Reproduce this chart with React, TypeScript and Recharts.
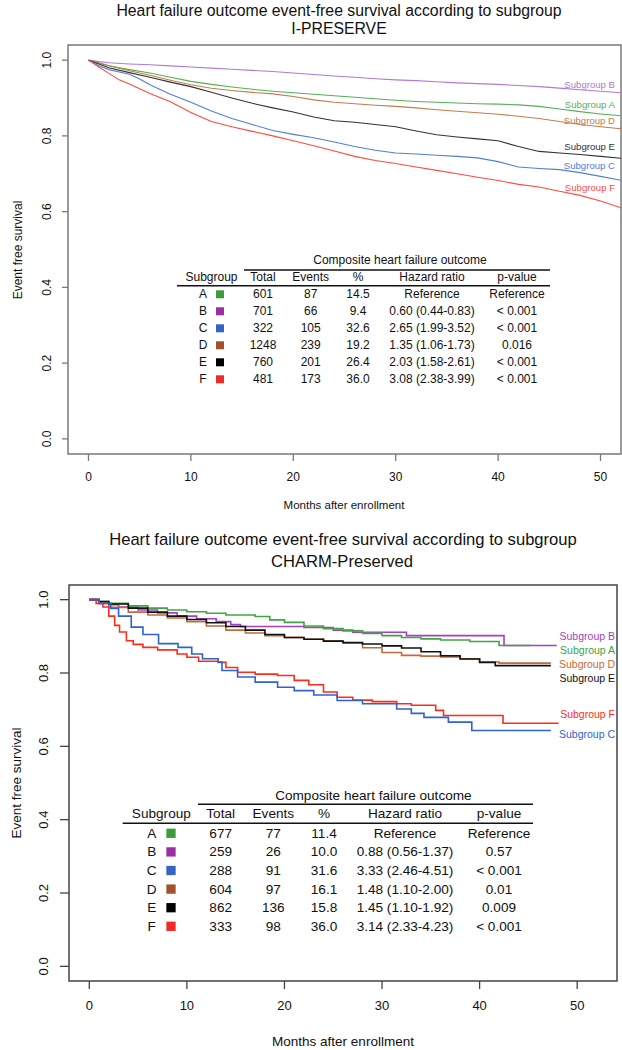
import {
  LineChart,
  Line,
  XAxis,
  YAxis,
  ReferenceArea,
} from "recharts";

const FONT = '"Liberation Sans", Arial, Helvetica, sans-serif';

type Pt = [number, number];

// I-PRESERVE curves: [month, event-free survival]
const ipB: Pt[] = [[0,1],[1,0.996],[2,0.993],[4,0.99],[6,0.988],[8,0.985],[10,0.982],[12,0.979],[14,0.976],[16,0.973],[18,0.97],[20,0.966],[22,0.962],[24,0.958],[26,0.955],[28,0.951],[30,0.948],[32,0.946],[34,0.943],[36,0.94],[38,0.938],[40,0.936],[42,0.933],[44,0.93],[46,0.926],[48,0.922],[50,0.918],[52,0.914]];
const ipA: Pt[] = [[0,1],[1,0.993],[2,0.985],[4,0.975],[6,0.966],[8,0.955],[10,0.944],[12,0.936],[14,0.929],[16,0.923],[18,0.918],[20,0.914],[22,0.91],[24,0.906],[26,0.902],[28,0.898],[30,0.894],[32,0.891],[34,0.889],[36,0.887],[38,0.885],[40,0.884],[42,0.882],[44,0.878],[46,0.871],[48,0.864],[50,0.858],[52,0.853]];
const ipD: Pt[] = [[0,1],[1,0.992],[2,0.985],[4,0.972],[6,0.96],[8,0.947],[10,0.935],[12,0.926],[14,0.92],[16,0.915],[18,0.911],[20,0.904],[22,0.895],[24,0.889],[26,0.885],[28,0.881],[30,0.878],[32,0.874],[34,0.869],[36,0.865],[38,0.861],[40,0.857],[42,0.852],[44,0.846],[46,0.838],[48,0.83],[50,0.824],[52,0.819]];
const ipE: Pt[] = [[0,1],[1,0.99],[2,0.98],[4,0.967],[6,0.955],[8,0.942],[10,0.93],[12,0.915],[14,0.9],[16,0.886],[18,0.874],[20,0.863],[22,0.85],[24,0.84],[26,0.836],[28,0.83],[30,0.824],[32,0.813],[34,0.803],[36,0.797],[38,0.792],[40,0.787],[42,0.772],[44,0.759],[46,0.755],[48,0.751],[50,0.746],[52,0.741]];
const ipC: Pt[] = [[0,1],[1,0.985],[2,0.975],[4,0.963],[5,0.95],[6,0.935],[8,0.91],[10,0.889],[12,0.866],[14,0.846],[16,0.83],[18,0.814],[20,0.804],[22,0.795],[24,0.784],[26,0.772],[28,0.762],[30,0.755],[32,0.752],[34,0.749],[36,0.746],[38,0.742],[40,0.732],[42,0.718],[44,0.714],[46,0.711],[48,0.703],[50,0.693],[52,0.683]];
const ipF: Pt[] = [[0,1],[1,0.982],[2,0.965],[3,0.948],[4,0.937],[6,0.912],[8,0.89],[10,0.862],[12,0.838],[14,0.824],[16,0.812],[18,0.8],[20,0.787],[22,0.774],[24,0.76],[26,0.746],[28,0.735],[30,0.727],[32,0.718],[34,0.709],[36,0.7],[38,0.691],[40,0.682],[42,0.672],[44,0.665],[46,0.654],[48,0.643],[50,0.628],[52,0.61]];

// CHARM-Preserved curves
const chB: Pt[] = [[0,1],[1,0.993],[2,0.986],[3,0.98],[5,0.972],[7,0.964],[9,0.955],[11,0.948],[13,0.94],[14.5,0.932],[15.5,0.927],[22,0.924],[25,0.917],[27,0.911],[32.5,0.902],[42.5,0.875],[47.9,0.875]];
const chA: Pt[] = [[0,1],[1,0.995],[2,0.99],[4,0.983],[6,0.977],[8,0.972],[10,0.967],[12,0.963],[14,0.958],[17,0.954],[18.5,0.945],[20,0.938],[22,0.928],[24,0.921],[26,0.915],[28,0.908],[30,0.902],[32,0.897],[34,0.893],[36,0.89],[39,0.886],[42,0.875],[45.3,0.875]];
const chE: Pt[] = [[0,1],[1,0.995],[2,0.988],[4,0.977],[6,0.966],[8,0.955],[10,0.946],[12,0.937],[14,0.927],[16,0.917],[18,0.905],[20,0.897],[22,0.892],[24,0.887],[26,0.883],[28,0.879],[30,0.874],[32,0.868],[34,0.858],[36,0.847],[38,0.838],[40,0.829],[41.6,0.82],[47.3,0.82]];
const chD: Pt[] = [[0,1],[1,0.99],[2,0.979],[4,0.966],[6,0.958],[8,0.95],[10,0.94],[12,0.928],[14,0.917],[16,0.909],[18,0.902],[20,0.897],[22,0.892],[24,0.887],[26,0.881],[28,0.869],[30,0.856],[32,0.848],[34,0.846],[36,0.844],[38,0.839],[40,0.83],[42,0.827],[47.3,0.827]];
const chF: Pt[] = [[0,1],[0.7,0.99],[1.4,0.98],[2,0.955],[2.6,0.93],[3.1,0.912],[3.8,0.888],[4.5,0.878],[5.5,0.87],[7,0.863],[9,0.852],[10,0.843],[11.2,0.832],[13.2,0.829],[14,0.815],[15.2,0.802],[17,0.797],[19.3,0.793],[21,0.78],[22.5,0.768],[24,0.748],[25.4,0.734],[27,0.726],[29,0.722],[31.5,0.716],[33,0.712],[35.5,0.698],[36.3,0.684],[42.4,0.663],[48.1,0.663]];
const chC: Pt[] = [[0,1],[1,0.99],[2.2,0.976],[3,0.955],[4.3,0.925],[5.5,0.905],[7.1,0.88],[9.1,0.87],[10.5,0.852],[11.6,0.839],[13.2,0.83],[13.6,0.807],[15.2,0.789],[17,0.775],[19.3,0.761],[21,0.752],[23,0.74],[25.4,0.725],[28,0.716],[31.5,0.702],[33,0.69],[34.3,0.679],[36.8,0.666],[39.2,0.643],[47.3,0.643]];

const monthTicks = [0, 10, 20, 30, 40, 50];
const survTicks = [0, 0.2, 0.4, 0.6, 0.8, 1];

// table contents
const groups = ["A", "B", "C", "D", "E", "F"];
const ipTotal = ["601", "701", "322", "1248", "760", "481"];
const ipEvents = ["87", "66", "105", "239", "201", "173"];
const ipPct = ["14.5", "9.4", "32.6", "19.2", "26.4", "36.0"];
const ipHR = ["Reference", "0.60 (0.44-0.83)", "2.65 (1.99-3.52)", "1.35 (1.06-1.73)", "2.03 (1.58-2.61)", "3.08 (2.38-3.99)"];
const ipP = ["Reference", "< 0.001", "< 0.001", "0.016", "< 0.001", "< 0.001"];
const chTotal = ["677", "259", "288", "604", "862", "333"];
const chEvents = ["77", "26", "91", "97", "136", "98"];
const chPct = ["11.4", "10.0", "31.6", "16.1", "15.8", "36.0"];
const chHR = ["Reference", "0.88 (0.56-1.37)", "3.33 (2.46-4.51)", "1.48 (1.10-2.00)", "1.45 (1.10-1.92)", "3.14 (2.33-4.23)"];
const chP = ["Reference", "0.57", "< 0.001", "0.01", "0.009", "< 0.001"];

const squareColors = ["#3d9b3d", "#9a2fa3", "#3763c6", "#a0522d", "#000000", "#ee2b26"];

const rows = (pts: Pt[]) => pts.map(([t, s]) => ({ t, s }));

type Series = { name: string; pts: Pt[]; color: string };

const ipSeries: Series[] = [
  { name: "B", pts: ipB, color: "#b479d2" },
  { name: "A", pts: ipA, color: "#55b055" },
  { name: "D", pts: ipD, color: "#c67c4c" },
  { name: "E", pts: ipE, color: "#333333" },
  { name: "C", pts: ipC, color: "#4f7fd6" },
  { name: "F", pts: ipF, color: "#ff4b3c" },
];
const chSeries: Series[] = [
  { name: "B", pts: chB, color: "#a53fc6" },
  { name: "A", pts: chA, color: "#40a540" },
  { name: "D", pts: chD, color: "#c46a3a" },
  { name: "E", pts: chE, color: "#111111" },
  { name: "F", pts: chF, color: "#ff2b1c" },
  { name: "C", pts: chC, color: "#2f63d2" },
];

function Panel(props: {
  top: number;
  height: number;
  margin: { top: number; right: number; bottom: number; left: number };
  yWidth: number;
  xDomain: [number, number];
  series: Series[];
  step: boolean;
  lineWidth: number;
  boxColor: string;
  tickFont: number;
  xTickSize: number;
  yTickSize: number;
  xLabelDy: number;
  yLabelDx: number;
}) {
  const { margin, xDomain } = props;
  return (
    <div style={{ position: "absolute", left: 0, top: props.top }}>
      <LineChart width={622} height={props.height} margin={margin}>
        <XAxis
          dataKey="t"
          type="number"
          domain={xDomain}
          ticks={monthTicks}
          allowDataOverflow
          axisLine={false}
          tickSize={props.xTickSize}
          tickMargin={0}
          tickLine={{ stroke: props.boxColor, strokeWidth: 1.3 }}
          height={30}
          tick={(p: any) => (
            <text
              x={p.x}
              y={p.y}
              dy={props.xLabelDy}
              textAnchor="middle"
              fontSize={props.tickFont}
              fontFamily={FONT}
              fill="#111"
            >
              {p.payload.value}
            </text>
          )}
        />
        <YAxis
          type="number"
          domain={[-0.04, 1.04]}
          ticks={survTicks}
          allowDataOverflow
          axisLine={false}
          width={props.yWidth}
          tickSize={props.yTickSize}
          tickMargin={0}
          tickLine={{ stroke: props.boxColor, strokeWidth: 1.3 }}
          tick={(p: any) => {
            const cx = p.x + props.yLabelDx;
            return (
              <text
                x={cx}
                y={p.y}
                transform={`rotate(-90 ${cx} ${p.y})`}
                textAnchor="middle"
                dominantBaseline="central"
                fontSize={props.tickFont}
                fontFamily={FONT}
                fill="#111"
              >
                {Number(p.payload.value).toFixed(1)}
              </text>
            );
          }}
        />
        <ReferenceArea
          x1={xDomain[0]}
          x2={xDomain[1]}
          y1={-0.04}
          y2={1.04}
          fill="none"
          stroke={props.boxColor}
          strokeWidth={1.5}
          ifOverflow="visible"
        />
        {props.series.map((s) => (
          <Line
            key={s.name}
            data={rows(s.pts)}
            dataKey="s"
            type={props.step ? "stepAfter" : "linear"}
            stroke={s.color}
            strokeWidth={props.lineWidth}
            dot={false}
            activeDot={false}
            isAnimationActive={false}
          />
        ))}
      </LineChart>
    </div>
  );
}

function Table(props: {
  fontSize: number;
  titleY: number;
  titleX: number;
  line1: [number, number, number];
  line2: [number, number, number];
  headerY: number;
  rowY0: number;
  rowGap: number;
  cols: number[]; // letter, square, total, events, pct, hr, p
  sq: number;
  total: string[];
  events: string[];
  pct: string[];
  hr: string[];
  p: string[];
}) {
  const { fontSize, cols } = props;
  const t = (x: number, y: number, s: string, key?: string) => (
    <text
      key={key}
      x={x}
      y={y}
      textAnchor="middle"
      dominantBaseline="central"
      fontSize={fontSize}
      fontFamily={FONT}
      fill="#111"
    >
      {s}
    </text>
  );
  const headers = ["Total", "Events", "%", "Hazard ratio", "p-value"];
  return (
    <g>
      {t(props.titleX, props.titleY, "Composite heart failure outcome")}
      <line x1={props.line1[0]} x2={props.line1[1]} y1={props.line1[2]} y2={props.line1[2]} stroke="#111" strokeWidth={1.6} />
      <line x1={props.line2[0]} x2={props.line2[1]} y1={props.line2[2]} y2={props.line2[2]} stroke="#111" strokeWidth={1.6} />
      {t((cols[0] + cols[1]) / 2, props.headerY, "Subgroup")}
      {headers.map((h, i) => t(cols[i + 2], props.headerY, h, "h" + i))}
      {groups.map((g, i) => {
        const y = props.rowY0 + i * props.rowGap;
        return (
          <g key={g}>
            {t(cols[0], y, g)}
            <rect x={cols[1] - props.sq / 2} y={y - props.sq / 2} width={props.sq} height={props.sq} fill={squareColors[i]} />
            {t(cols[2], y, props.total[i])}
            {t(cols[3], y, props.events[i])}
            {t(cols[4], y, props.pct[i])}
            {t(cols[5], y, props.hr[i])}
            {t(cols[6], y, props.p[i])}
          </g>
        );
      })}
    </g>
  );
}

export default function App() {
  const txt = (x: number, y: number, s: string, size: number, anchor = "middle", color = "#111", rot = false) => (
    <text
      key={s + y}
      x={x}
      y={y}
      textAnchor={anchor as any}
      dominantBaseline="central"
      fontSize={size}
      fontFamily={FONT}
      fill={color}
      transform={rot ? `rotate(-90 ${x} ${y})` : undefined}
    >
      {s}
    </text>
  );
  // title lines placed on their baselines
  const title = (x: number, base: number, s: string, size: number) => (
    <text key={s + base} x={x} y={base} textAnchor="middle" fontSize={size} fontFamily={FONT} fill="#111">
      {s}
    </text>
  );
  const ipLabelY = [84, 104, 120, 146, 165, 187];
  const chLabelY = [636, 649.5, 664, 677.5, 713.5, 734];
  return (
    <div style={{ position: "absolute", left: 0, top: 0, width: 622, height: 1050, background: "#fff" }}>
      <Panel
        top={0}
        height={530}
        margin={{ top: 45, right: 1, bottom: 46, left: 0 }}
        yWidth={68}
        xDomain={[-2, 52]}
        series={ipSeries}
        step={false}
        lineWidth={1.1}
        boxColor="#7a7a7a"
        tickFont={12}
        xTickSize={7}
        yTickSize={6}
        xLabelDy={20}
        yLabelDx={-15}
      />
      <Panel
        top={530}
        height={520}
        margin={{ top: 55, right: 5, bottom: 39, left: 0 }}
        yWidth={69}
        xDomain={[-2.08, 54.08]}
        series={chSeries}
        step={true}
        lineWidth={1.6}
        boxColor="#444"
        tickFont={13}
        xTickSize={8}
        yTickSize={9}
        xLabelDy={21}
        yLabelDx={-16.5}
      />
      <svg width={622} height={1050} style={{ position: "absolute", left: 0, top: 0, pointerEvents: "none" }}>
        {title(339, 16, "Heart failure outcome event-free survival according to subgroup", 15.8)}
        {title(339, 33.6, "I-PRESERVE", 15.8)}
        {txt(344, 505, "Months after enrollment", 11.5)}
        {txt(18, 250, "Event free survival", 12, "middle", "#111", true)}
        {ipSeries.map((s, i) => txt(615, ipLabelY[i], "Subgroup " + s.name, 9.6, "end", s.color))}
        <Table
          fontSize={12}
          titleX={400}
          titleY={260}
          line1={[244, 550, 270]}
          line2={[177, 550, 285.7]}
          headerY={276.7}
          rowY0={294.3}
          rowGap={17}
          cols={[203, 220, 263, 310.7, 358, 432, 517]}
          sq={8}
          total={ipTotal}
          events={ipEvents}
          pct={ipPct}
          hr={ipHR}
          p={ipP}
        />
        {title(343, 544.5, "Heart failure outcome event-free survival according to subgroup", 16.6)}
        {title(342, 566.5, "CHARM-Preserved", 16.6)}
        {txt(343, 1041.7, "Months after enrollment", 13.5)}
        {txt(16, 783, "Event free survival", 13.5, "middle", "#111", true)}
        {chSeries.map((s, i) => txt(615, chLabelY[i], "Subgroup " + s.name, 10.5, "end", s.color))}
        <Table
          fontSize={13.6}
          titleX={373.4}
          titleY={795}
          line1={[198, 533, 804.3]}
          line2={[122.7, 533, 823.3]}
          headerY={813.3}
          rowY0={833.3}
          rowGap={18.6}
          cols={[151.7, 171, 220.7, 273.3, 324, 405, 499]}
          sq={9.3}
          total={chTotal}
          events={chEvents}
          pct={chPct}
          hr={chHR}
          p={chP}
        />
      </svg>
    </div>
  );
}
